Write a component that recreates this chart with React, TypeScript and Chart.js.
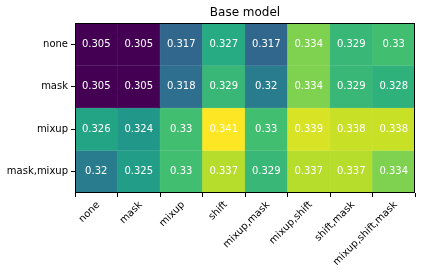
import React, { useEffect, useRef } from "react";
import { Chart, registerables } from "chart.js";

Chart.register(...registerables);

const title = "Base model";
const colLabels = ["none", "mask", "mixup", "shift", "mixup,mask", "mixup,shift", "shift,mask", "mixup,shift,mask"];
const rowLabels = ["none", "mask", "mixup", "mask,mixup"];
const rowNone = [0.305, 0.305, 0.317, 0.327, 0.317, 0.334, 0.329, 0.33];
const rowMask = [0.305, 0.305, 0.318, 0.329, 0.32, 0.334, 0.329, 0.328];
const rowMixup = [0.326, 0.324, 0.33, 0.341, 0.33, 0.339, 0.338, 0.338];
const rowMaskMixup = [0.32, 0.325, 0.33, 0.337, 0.329, 0.337, 0.337, 0.334];
const rows = [rowNone, rowMask, rowMixup, rowMaskMixup];

const viridisStops = [
  "#440154", "#482475", "#414487", "#355f8d", "#2a788e", "#21918c",
  "#22a884", "#44bf70", "#7ad151", "#bddf26", "#fde725",
];

function hexToRgb(h: string) {
  return [parseInt(h.slice(1, 3), 16), parseInt(h.slice(3, 5), 16), parseInt(h.slice(5, 7), 16)];
}

function viridis(t: number) {
  const c = Math.max(0, Math.min(1, t)) * (viridisStops.length - 1);
  const i = Math.min(Math.floor(c), viridisStops.length - 2);
  const f = c - i;
  const a = hexToRgb(viridisStops[i]);
  const b = hexToRgb(viridisStops[i + 1]);
  const m = a.map((v, k) => Math.round(v + (b[k] - v) * f));
  return `rgb(${m[0]},${m[1]},${m[2]})`;
}

export default function App() {
  const ref = useRef<HTMLCanvasElement | null>(null);

  useEffect(() => {
    if (!ref.current) return;
    const all = rows.flat();
    const vmin = Math.min(...all);
    const vmax = Math.max(...all);
    const colorOf = (v: number) => viridis((v - vmin) / (vmax - vmin));

    const datasets = rows.map((vals, r) => ({
      label: rowLabels[r],
      data: vals.map(() => [r - 0.5, r + 0.5]),
      backgroundColor: vals.map(colorOf),
      borderColor: vals.map(colorOf),
      borderWidth: 0.5,
      borderSkipped: false,
      grouped: false,
      barPercentage: 1,
      categoryPercentage: 1,
    }));

    const frame = {
      id: "frame",
      afterDatasetsDraw(chart: any) {
        const { ctx, chartArea } = chart;
        ctx.save();
        ctx.strokeStyle = "#000";
        ctx.lineWidth = 1;
        ctx.strokeRect(
          Math.round(chartArea.left) + 0.5,
          Math.round(chartArea.top) + 0.5,
          Math.round(chartArea.right - chartArea.left) - 1,
          Math.round(chartArea.bottom - chartArea.top) - 1
        );
        ctx.restore();
      },
    };

    const cellText = {
      id: "cellText",
      afterDatasetsDraw(chart: any) {
        const { ctx } = chart;
        ctx.save();
        ctx.fillStyle = "#ffffff";
        ctx.font = "10px 'DejaVu Sans'";
        ctx.textAlign = "center";
        ctx.textBaseline = "middle";
        rows.forEach((vals, r) => {
          const meta = chart.getDatasetMeta(r);
          meta.data.forEach((el: any, c: number) => {
            ctx.fillText(String(vals[c]), el.x, (el.y + el.base) / 2);
          });
        });
        ctx.restore();
      },
    };

    const chart = new Chart(ref.current, {
      type: "bar",
      data: { labels: colLabels, datasets: datasets as any },
      options: {
        animation: false,
        responsive: true,
        maintainAspectRatio: false,
        layout: { padding: { left: 0, right: 10, top: 0, bottom: 0 } },
        plugins: {
          legend: { display: false },
          tooltip: { enabled: false },
          title: {
            display: true,
            text: title,
            color: "#000",
            fullSize: false,
            font: { family: "'DejaVu Sans'", size: 12, weight: "normal" },
            padding: { top: 5.5, bottom: 3.1 },
          },
        },
        scales: {
          x: {
            type: "category",
            offset: true,
            grid: { display: true, drawOnChartArea: false, drawTicks: true, tickLength: 4, tickColor: "#000", color: "#000" },
            border: { display: false },
            ticks: {
              color: "#000",
              font: { family: "'DejaVu Sans'", size: 10 },
              minRotation: 45,
              maxRotation: 45,
              autoSkip: false,
              padding: 2,
              labelOffset: 2,
            },
            afterFit(scale: any) {
              scale.height = 82;
            },
          },
          y: {
            type: "linear",
            min: -0.5,
            max: 3.5,
            reverse: true,
            grid: { display: true, drawOnChartArea: false, drawTicks: true, tickLength: 4, tickColor: "#000", color: "#000" },
            border: { display: false },
            afterBuildTicks(scale: any) {
              scale.ticks = rowLabels.map((_, i) => ({ value: i }));
            },
            ticks: {
              color: "#000",
              font: { family: "'DejaVu Sans'", size: 10 },
              padding: 3,
              callback: (v: any) => rowLabels[Number(v)] ?? "",
            },
            afterFit(scale: any) {
              scale.width = 75;
            },
          },
        },
      },
      plugins: [frame, cellText],
    });
    return () => chart.destroy();
  }, []);

  return (
    <div style={{ position: "absolute", left: 0, top: 0, width: 425, height: 275, background: "#fff" }}>
      <canvas ref={ref} />
    </div>
  );
}
